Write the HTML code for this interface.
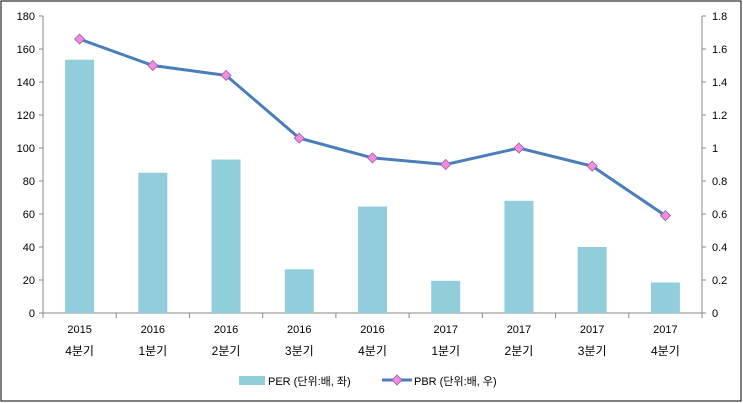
<!DOCTYPE html>
<html><head><meta charset="utf-8"><style>
body{margin:0;background:#fff}
svg{display:block;font-family:"Liberation Sans","Noto Sans CJK KR",sans-serif}
</style></head><body>
<svg id="c" width="743" height="403">
<rect x="1" y="1" width="740" height="400" fill="#fff" stroke="#000" stroke-width="1"/>
</svg>
<script>
const cats1=["2015","2016","2016","2016","2016","2017","2017","2017","2017"];
const cats2=["4분기","1분기","2분기","3분기","4분기","1분기","2분기","3분기","4분기"];
const per=[153.5,85,93,26.5,64.5,19.5,68,40,18.5];
const pbr=[1.66,1.50,1.44,1.06,0.94,0.90,1.00,0.89,0.59];
const leftTicks=[0,20,40,60,80,100,120,140,160,180];
const rightTicks=["0","0.2","0.4","0.6","0.8","1","1.2","1.4","1.6","1.8"];
const NS="http://www.w3.org/2000/svg",svg=document.getElementById('c');
const X0=43,X1=702,Y0=313,Y1=16,n=cats1.length,cw=(X1-X0)/n;
const yL=v=>Y0-(v/180)*(Y0-Y1), yR=v=>Y0-(v/1.8)*(Y0-Y1), xc=i=>X0+cw*(i+0.5);
function mk(t,a,txt){const e=document.createElementNS(NS,t);for(const k in a)e.setAttribute(k,a[k]);if(txt!=null)e.textContent=txt;svg.appendChild(e);return e;}
let e;
e=mk('line',{x1:X0,y1:Y1,x2:X0,y2:Y0,stroke:'#888'});


e=mk('line',{x1:X1,y1:Y1,x2:X1,y2:Y0,stroke:'#888'});


e=mk('line',{x1:X0,y1:Y0,x2:X1,y2:Y0,stroke:'#888'});


leftTicks.forEach((v,i)=>{const y=yL(v);
 mk('line',{x1:X0-4,y1:y,x2:X0,y2:y,stroke:'#888'});
 mk('line',{x1:X1,y1:y,x2:X1+4,y2:y,stroke:'#888'});
 e=mk('text',{x:X0-8,y:y+4,'text-anchor':'end','font-size':11},v);
 
 
 e=mk('text',{x:X1+10,y:y+4,'font-size':11},rightTicks[i]);
 
 
});
for(let i=0;i<=n;i++){const x=X0+cw*i;mk('line',{x1:x,y1:Y0,x2:x,y2:Y0+5,stroke:'#888'});}
per.forEach((v,i)=>{
 e=mk('rect',{x:xc(i)-14.5,y:yL(v),width:29,height:Y0-yL(v),fill:'#92CDDC'});
 
 
 e=mk('text',{x:xc(i),y:333,'text-anchor':'middle','font-size':11},cats1[i]);
 
 
 e=mk('text',{x:xc(i),y:355,'text-anchor':'middle','font-size':12},cats2[i]);
 
 
});
e=mk('polyline',{points:pbr.map((v,i)=>xc(i)+','+yR(v)).join(' '),fill:'none',stroke:'#4A7EBB','stroke-width':3});


pbr.forEach((v,i)=>{const x=xc(i),y=yR(v);
 e=mk('polygon',{points:`${x},${y-5} ${x+5},${y} ${x},${y+5} ${x-5},${y}`,fill:'#F28CE0',stroke:'#9B5AA0','stroke-width':0.8});
 
 
});
e=mk('rect',{x:239,y:376,width:26,height:9,fill:'#92CDDC'});


e=mk('text',{x:268,y:385,'font-size':11},'PER (단위:배, 좌)');


e=mk('line',{x1:382,y1:380,x2:412,y2:380,stroke:'#4A7EBB','stroke-width':3});


e=mk('polygon',{points:'397,375 402,380 397,385 392,380',fill:'#F28CE0',stroke:'#9B5AA0','stroke-width':0.8});


e=mk('text',{x:414,y:385,'font-size':11},'PBR (단위:배, 우)');


</script>
</body></html>
